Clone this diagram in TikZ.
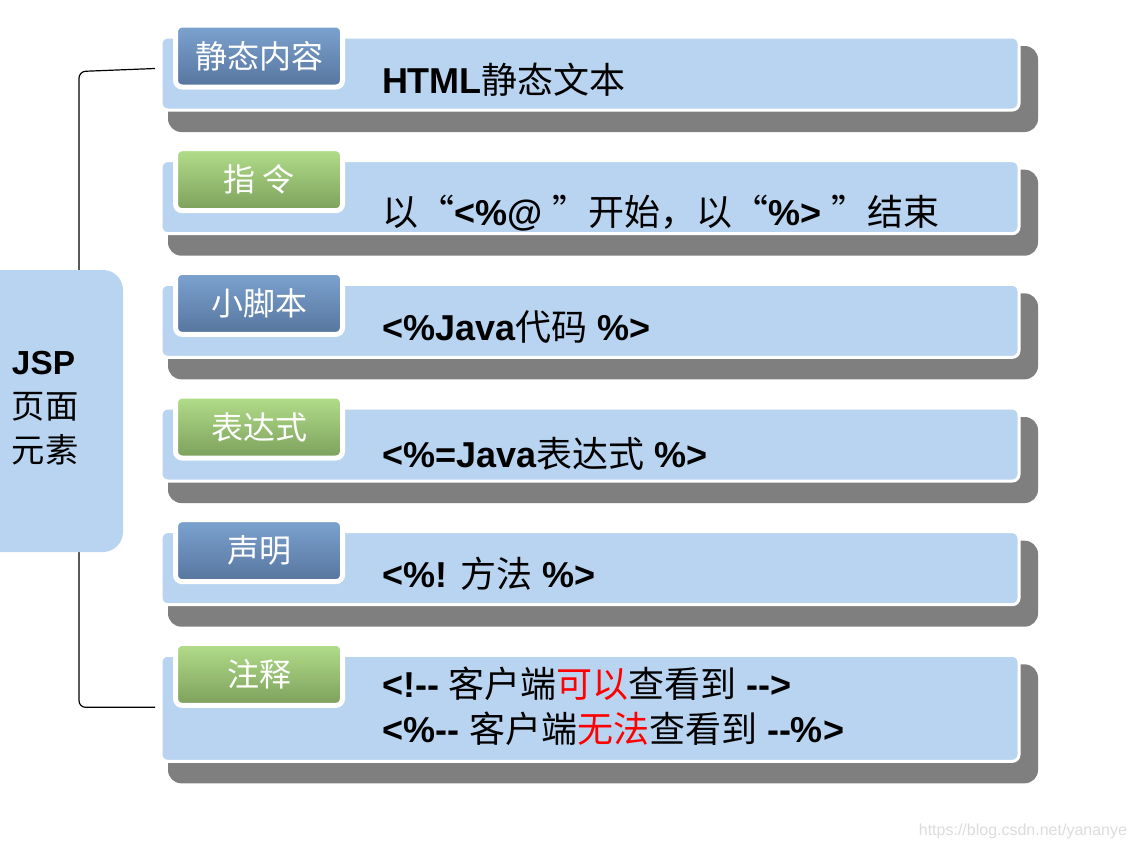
\documentclass[tikz,border=0pt]{standalone}
\usepackage{fontspec}
\setmainfont{Liberation Sans}
\newfontfamily\cjk{Noto Sans CJK SC}
\usetikzlibrary{calc}
\usetikzlibrary{positioning}
\usetikzlibrary{backgrounds}
\definecolor{rowblue}{RGB}{185,212,240}
\definecolor{shadowgray}{RGB}{127,127,127}
\definecolor{tabbluetop}{RGB}{124,163,207}
\definecolor{tabbluebot}{RGB}{86,117,158}
\definecolor{tabgreentop}{RGB}{178,222,138}
\definecolor{tabgreenbot}{RGB}{124,160,92}
\definecolor{marklight}{RGB}{220,220,220}

\begin{document}
\begin{tikzpicture}[x=0.75pt, y=-0.75pt, node distance=38pt, inner sep=0pt, outer sep=0pt]
    \tikzstyle{rowbox}=[draw=white, line width=2.25pt, fill=rowblue, rounded corners=5pt, minimum width=643.5pt, minimum height=54.75pt]
    \tikzstyle{rowshadow}=[fill=shadowgray, rounded corners=10pt]
    \tikzstyle{tabbox}=[draw=white, line width=3.75pt, rounded corners=5pt, minimum width=125.25pt, minimum height=46.5pt, text=white, font=\cjk\fontsize{24}{28}\selectfont]
    \tikzstyle{bluetab}=[tabbox, top color=tabbluetop, bottom color=tabbluebot]
    \tikzstyle{greentab}=[tabbox, top color=tabgreentop, bottom color=tabgreenbot]
    \tikzstyle{txt}=[anchor=base west, font=\fontsize{27}{32}\selectfont]
    \tikzstyle{bracket}=[draw=black, line width=0.9pt, rounded corners=5pt]

    \path[use as bounding box, clip] (0,0) rectangle (1137,847);

    % left label
    \node[fill=rowblue, rounded corners=15pt, minimum width=114.75pt, minimum height=211.5pt, anchor=north east] (jsp) at (123,270) {};
    \node[anchor=west, align=left, font=\fontsize{25}{33}\selectfont] (jsptxt) at (12,408) {\textbf{JSP}\\{\cjk 页面}\\{\cjk 元素}};

    % rows
    \node[rowbox] (b1) at (590,73.5) {};
    \node[rowbox, below=of b1] (b2) {};
    \node[rowbox, below=of b2] (b3) {};
    \node[rowbox, below=of b3] (b4) {};
    \node[rowbox, below=of b4] (b5) {};
    \node[rowbox, below=of b5, minimum height=79.5pt] (b6) {};

    \begin{scope}[on background layer]
        \fill[rowshadow] ($(b1.north west)+(7,9)$) rectangle ($(b1.south east)+(19,22)$);
        \fill[rowshadow] ($(b2.north west)+(7,9)$) rectangle ($(b2.south east)+(19,22)$);
        \fill[rowshadow] ($(b3.north west)+(7,9)$) rectangle ($(b3.south east)+(19,22)$);
        \fill[rowshadow] ($(b4.north west)+(7,9)$) rectangle ($(b4.south east)+(19,22)$);
        \fill[rowshadow] ($(b5.north west)+(7,9)$) rectangle ($(b5.south east)+(19,22)$);
        \fill[rowshadow] ($(b6.north west)+(7,9)$) rectangle ($(b6.south east)+(19,22)$);
        \coordinate (brtop) at ($(b1.west)+(-6,-5)$);
        \coordinate (brbot) at ($(b6.west)+(-6,-1)$);
        \draw[bracket] (brtop) -- ++(-76,3) -- ($(brbot)+(-76,0)$) -- (brbot);
    \end{scope}

    % tabs
    \node[bluetab, anchor=north west] (t1) at ($(b1.north west)+(14.5,-12)$) {静态内容};
    \node[greentab, anchor=north west] (t2) at ($(b2.north west)+(14.5,-12)$) {指 令};
    \node[bluetab, anchor=north west] (t3) at ($(b3.north west)+(14.5,-12)$) {小脚本};
    \node[greentab, anchor=north west] (t4) at ($(b4.north west)+(14.5,-12)$) {表达式};
    \node[bluetab, anchor=north west] (t5) at ($(b5.north west)+(14.5,-12)$) {声明};
    \node[greentab, anchor=north west] (t6) at ($(b6.north west)+(14.5,-12)$) {注释};

    % contents
    \node[txt] (c1) at ($(b1.north west)+(221,56)$) {\textbf{HTML}{\cjk 静态文本}};
    \node[txt] (c2) at ($(b2.north west)+(221,65)$) {{\cjk 以“}\textbf{<\%@ }{\cjk ”开始，以“}\textbf{\%> }{\cjk ”结束}};
    \node[txt] (c3) at ($(b3.north west)+(221,56)$) {\textbf{<\%Java}{\cjk 代码}\textbf{ \%>}};
    \node[txt] (c4) at ($(b4.north west)+(221,59)$) {\textbf{<\%=Java}{\cjk 表达式}\textbf{ \%>}};
    \node[txt] (c5) at ($(b5.north west)+(221,56)$) {\textbf{<\%! }{\cjk 方法}\textbf{ \%>}};
    \node[txt] (c6a) at ($(b6.north west)+(221,42)$) {\textbf{<!-{}- }{\cjk 客户端\textcolor{red}{可以}查看到}\textbf{ -{}->}};
    \node[txt] (c6b) at ($(b6.north west)+(221,87)$) {\textbf{<\%-{}- }{\cjk 客户端\textcolor{red}{无法}查看到}\textbf{ -{}-\%>}};

    \node[anchor=base east, text=marklight, font=\fontsize{12}{14}\selectfont] (mark) at (1127,835) {https://blog.csdn.net/yananye};
\end{tikzpicture}
\end{document}
